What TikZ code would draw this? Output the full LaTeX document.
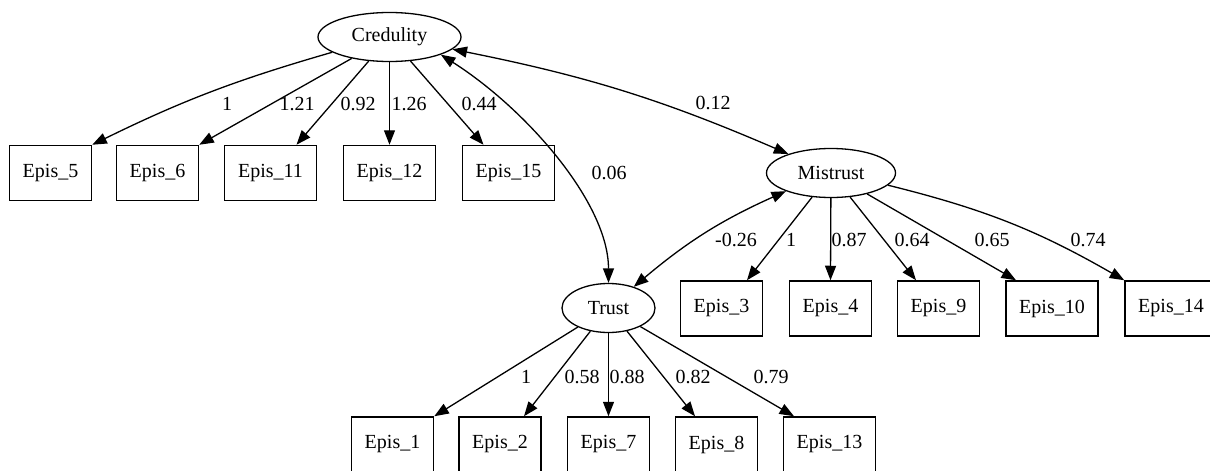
\documentclass[tikz,border=0pt]{standalone}
\usepackage{fontspec}
\setmainfont{Liberation Serif}
\usetikzlibrary{shapes.geometric,arrows.meta}
\begin{document}
\begin{tikzpicture}[x=1pt,y=-1pt,
  every node/.style={font=\fontsize{20}{24}\selectfont},
  latent/.style={ellipse,draw,line width=1.3pt,minimum height=49pt,inner sep=0pt},
  item/.style={rectangle,draw,line width=1.5pt,minimum height=55pt,inner sep=0pt},
  narrow/.style={item,minimum width=82pt},
  wide/.style={item,minimum width=92pt},
  load/.style={-{Triangle[length=14.5pt,width=11pt]},line width=1.3pt},
  cov/.style={{Triangle[length=14.5pt,width=11pt]}-{Triangle[length=14.5pt,width=11pt]},line width=1.3pt},
  lbl/.style={inner sep=0pt}
]
\useasboundingbox (0,0) rectangle (1210,471);
\clip (0,0) rectangle (1210,471);

% latent factors
\node[latent,minimum width=143pt] (cred) at (389.5,37) {Credulity};
\node[latent,minimum width=129pt] (mis) at (831,173) {Mistrust};
\node[latent,minimum width=93pt] (trust) at (608.5,308) {Trust};

% Credulity indicators
\node[narrow] (e5) at (50.5,173) {Epis\_5};
\node[narrow] (e6) at (157.5,173) {Epis\_6};
\node[wide] (e11) at (270.5,173) {Epis\_11};
\node[wide] (e12) at (389.5,173) {Epis\_12};
\node[wide] (e15) at (508.5,173) {Epis\_15};

% Mistrust indicators
\node[narrow] (e3) at (721.5,308.5) {Epis\_3};
\node[narrow] (e4) at (830.5,308.5) {Epis\_4};
\node[narrow] (e9) at (938.5,308.5) {Epis\_9};
\node[wide] (e10) at (1052,308.5) {Epis\_10};
\node[wide] (e14) at (1171,308.5) {Epis\_14};

% Trust indicators
\node[narrow] (e1) at (392.5,444.5) {Epis\_1};
\node[narrow] (e2) at (500,444.5) {Epis\_2};
\node[narrow] (e7) at (608.5,444.5) {Epis\_7};
\node[narrow] (e8) at (716.5,444.5) {Epis\_8};
\node[wide] (e13) at (829.5,444.5) {Epis\_13};

% loadings
\draw[load] (cred) to[bend right=5] (e5.north east);
\draw[load] (cred) -- (e6.north east);
\draw[load] (cred) -- ([xshift=26pt]e11.north);
\draw[load] (cred) -- (e12.north);
\draw[load] (cred) -- ([xshift=-25pt]e15.north);

\draw[load] (mis) -- ([xshift=25.5pt]e3.north);
\draw[load] (mis) -- (e4.north);
\draw[load] (mis) -- ([xshift=-22.5pt]e9.north);
\draw[load] (mis) -- ([xshift=-36pt]e10.north);
\draw[load] (mis) to[bend left=8] (e14.north west);

\draw[load] (trust) -- (e1.north east);
\draw[load] (trust) -- ([xshift=24pt]e2.north);
\draw[load] (trust) -- (e7.north);
\draw[load] (trust) -- ([xshift=-21.5pt]e8.north);
\draw[load] (trust) -- ([xshift=-35.5pt]e13.north);

% covariances
\draw[cov] (cred.-19) .. controls +(85,54) and +(0,-80) .. (trust.north);
\draw[cov] (cred.-11) to[bend left=6] (mis.156);
\draw[cov] (trust.40) to[bend left=8] (mis.202);

% edge labels
\node[lbl] (lc5) at (227,104) {1};
\node[lbl] (lc6) at (297,104) {1.21};
\node[lbl] (lc11) at (358,104) {0.92};
\node[lbl] (lc12) at (409,104) {1.26};
\node[lbl] (lc15) at (479,104) {0.44};

\node[lbl] (lct) at (609,173) {0.06};
\node[lbl] (lcm) at (713,103) {0.12};
\node[lbl] (lmt) at (736,240) {-0.26};

\node[lbl] (lm3) at (791,240) {1};
\node[lbl] (lm4) at (849,240) {0.87};
\node[lbl] (lm9) at (912,240) {0.64};
\node[lbl] (lm10) at (992,240) {0.65};
\node[lbl] (lm14) at (1088,240) {0.74};

\node[lbl] (lt1) at (526,377) {1};
\node[lbl] (lt2) at (582,377) {0.58};
\node[lbl] (lt7) at (627,377) {0.88};
\node[lbl] (lt8) at (693,377) {0.82};
\node[lbl] (lt13) at (771,377) {0.79};
\end{tikzpicture}
\end{document}
